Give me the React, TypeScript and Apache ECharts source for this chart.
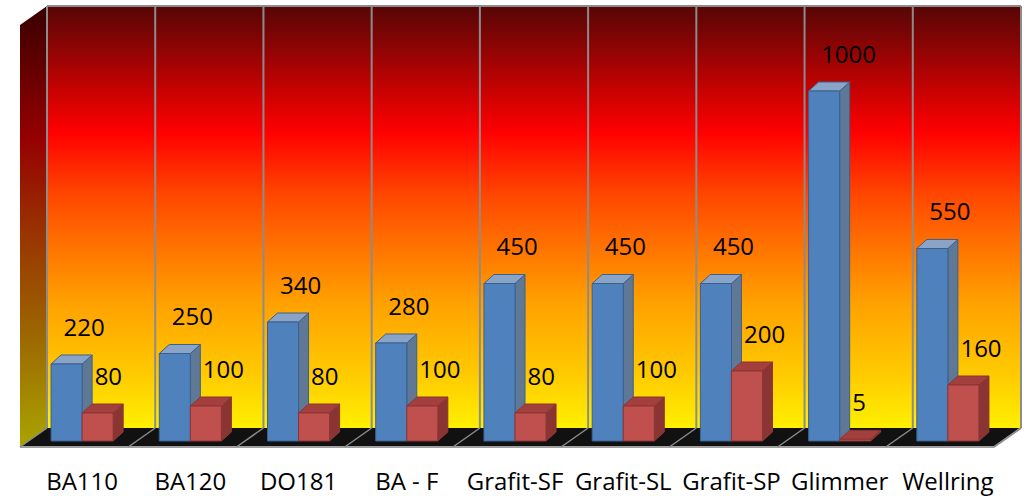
import React, { useEffect, useRef } from "react";
import * as echarts from "echarts";

const categories = ["BA110", "BA120", "DO181", "BA - F", "Grafit-SF", "Grafit-SL", "Grafit-SP", "Glimmer", "Wellring"];
const blueValues = [220, 250, 340, 280, 450, 450, 450, 1000, 550];
const redValues = [80, 100, 80, 100, 80, 100, 200, 5, 160];
const axisMax = 1200;

const FONT = "'Open Sans'";
const FONT_SIZE = 24;
const BACK_DX = 19;
const BACK_DY = -13;
const FRONT_DX = -8;
const FRONT_DY = 6;
const BAR_DX = 10;
const BAR_DY = -9;

function makeBar(side: number, colors: { front: string; side: string; top: string; stroke: string }) {
  return (params: any, api: any) => {
    const idx = api.value(0);
    const val = api.value(1);
    const base = api.coord([idx, 0]);
    const top = api.coord([idx, val]);
    const band = api.size([1, 0])[0];
    const w = band * 0.287;
    const x0 = side < 0 ? base[0] - w : base[0];
    const x1 = x0 + w;
    const yb = base[1];
    const yt = top[1];
    return {
      type: "group",
      children: [
        {
          type: "polygon",
          shape: { points: [[x1, yt], [x1 + BAR_DX, yt + BAR_DY], [x1 + BAR_DX, yb + BAR_DY], [x1, yb]] },
          style: { fill: colors.side, stroke: colors.stroke, lineWidth: 1 },
        },
        {
          type: "polygon",
          shape: { points: [[x0, yt], [x0 + BAR_DX, yt + BAR_DY], [x1 + BAR_DX, yt + BAR_DY], [x1, yt]] },
          style: { fill: colors.top, stroke: colors.stroke, lineWidth: 1 },
        },
        {
          type: "rect",
          shape: { x: x0, y: yt, width: w, height: yb - yt },
          style: { fill: colors.front, stroke: colors.stroke, lineWidth: 1 },
        },
        {
          type: "text",
          style: {
            text: String(val),
            x: x0 + w / 2 - 3,
            y: yt + BAR_DY - 29,
            fill: "#000",
            fontSize: FONT_SIZE,
            fontFamily: FONT,
            align: "left",
            verticalAlign: "middle",
          },
        },
      ],
    };
  };
}

function renderWalls(params: any, api: any) {
  const cs = params.coordSys;
  const left = cs.x;
  const right = cs.x + cs.width;
  const top = cs.y;
  const bottom = cs.y + cs.height;
  const bl = left + BACK_DX;
  const br = right + BACK_DX;
  const bt = top - 15;
  const bb = bottom + BACK_DY;
  const fl = left + FRONT_DX;
  const fr = right + FRONT_DX;
  const fb = bottom + FRONT_DY;
  const depthX = bl - fl;
  const depthY = fb - bb;
  const n = categories.length;
  const band = cs.width / n;
  const children: any[] = [
    {
      type: "polygon",
      shape: { points: [[fl, bt + depthY], [bl, bt], [bl, bb], [fl, fb]] },
      style: {
        fill: new echarts.graphic.LinearGradient(0, 0, 0, 1, [
          { offset: 0, color: "#380000" },
          { offset: 0.3, color: "#960000" },
          { offset: 0.5, color: "#993000" },
          { offset: 0.75, color: "#9c6800" },
          { offset: 1, color: "#aaa400" },
        ]),
      },
    },
    {
      type: "rect",
      shape: { x: bl, y: bt, width: cs.width, height: bb - bt },
      style: {
        fill: new echarts.graphic.LinearGradient(0, 0, 0, 1, [
          { offset: 0, color: "#560606" },
          { offset: 0.3, color: "#ff0000" },
          { offset: 0.45, color: "#ff4800" },
          { offset: 0.7, color: "#ffa000" },
          { offset: 0.88, color: "#ffcc00" },
          { offset: 1, color: "#fff000" },
        ]),
      },
    },
    {
      type: "polygon",
      shape: { points: [[bl, bb], [br, bb], [fr, fb], [fl, fb]] },
      style: { fill: "#111111" },
    },
    {
      type: "line",
      shape: { x1: bl, y1: bt, x2: br, y2: bt },
      style: { stroke: "#8c8c8c", lineWidth: 2 },
    },
    {
      type: "line",
      shape: { x1: fl, y1: fb, x2: fr, y2: fb },
      style: { stroke: "#a0a0a0", lineWidth: 2 },
    },
    {
      type: "line",
      shape: { x1: br, y1: bb, x2: fr, y2: fb },
      style: { stroke: "#a0a0a0", lineWidth: 2 },
    },
  ];
  for (let i = 0; i <= n; i++) {
    const x = bl + i * band;
    children.push({
      type: "line",
      shape: { x1: x, y1: bt, x2: x, y2: bb },
      style: { stroke: "#8c8c8c", lineWidth: 2 },
    });
    children.push({
      type: "line",
      shape: { x1: x, y1: bb, x2: x - depthX, y2: fb },
      style: { stroke: "#8c8c8c", lineWidth: 1.5 },
    });
  }
  return { type: "group", children };
}

export default function App() {
  const ref = useRef<HTMLDivElement>(null);
  useEffect(() => {
    const chart = echarts.init(ref.current as HTMLDivElement, null, { renderer: "svg" });
    const blueData = blueValues.map((v, i) => [i, v]);
    const redData = redValues.map((v, i) => [i, v]);
    chart.setOption({
      animation: false,
      backgroundColor: "#ffffff",
      grid: { left: 28, top: 21, width: 974, height: 420 },
      xAxis: {
        type: "category",
        data: categories,
        axisLine: { show: false },
        axisTick: { show: false },
        splitLine: { show: false },
        axisLabel: { interval: 0, margin: 27, color: "#000", fontSize: FONT_SIZE, fontFamily: FONT },
      },
      yAxis: { type: "value", min: 0, max: axisMax, show: false, splitLine: { show: false } },
      series: [
        { type: "custom", name: "walls", data: [[0, 0]], renderItem: renderWalls, z: 1, silent: true, encode: { x: 0, y: 1 } },
        {
          type: "custom",
          name: "blue",
          data: blueData,
          encode: { x: 0, y: 1 },
          z: 2,
          renderItem: makeBar(-1, { front: "#4f81bd", side: "#5f7896", top: "#8aa4c8", stroke: "#3a6090" }),
        },
        {
          type: "custom",
          name: "red",
          data: redData,
          encode: { x: 0, y: 1 },
          z: 3,
          renderItem: makeBar(1, { front: "#c0504d", side: "#8a3533", top: "#a3403d", stroke: "#8c3533" }),
        },
      ],
    });
    return () => chart.dispose();
  }, []);
  return <div ref={ref} style={{ position: "fixed", left: 0, top: 0, width: 1036, height: 496, background: "#fff" }} />;
}
